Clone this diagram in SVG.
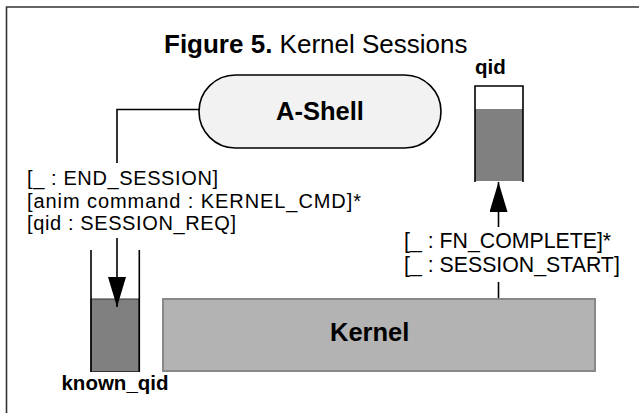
<svg xmlns="http://www.w3.org/2000/svg" width="639" height="413" viewBox="0 0 639 413">
  <style>
    .frame { fill: none; stroke: #333; stroke-width: 1.6; }
    .title { font-family: "Liberation Sans", Arial, sans-serif; font-size: 26px; fill: #000; }
    .node-label { font-family: "Liberation Sans", Arial, sans-serif; font-size: 25.5px; font-weight: bold; fill: #000; }
    .queue-label { font-family: "Liberation Sans", Arial, sans-serif; font-size: 20.5px; font-weight: bold; fill: #000; }
    .edge-label { font-family: "Liberation Sans", Arial, sans-serif; font-size: 21.3px; fill: #000; }
    .edge-label.tight { font-size: 20px; }
    .wire { fill: none; stroke: #000; stroke-width: 1.6; }
    .tube { fill: none; stroke: #000; stroke-width: 1.6; }
    .level { fill: #808080; }
  </style>
  <defs>
    <marker id="arrowBig" viewBox="0 0 30 18" refX="30" refY="9" markerWidth="30" markerHeight="18" markerUnits="userSpaceOnUse" orient="auto">
      <path d="M0,0 L30,9 L0,18 Z" fill="#000"/>
    </marker>
  </defs>

  <rect fill="#fff" x="0" y="0" width="639" height="413"/>
  <!-- figure border -->
  <path class="frame" d="M6.5,413 V7 H639"/>

  <text class="title" x="164" y="53"><tspan font-weight="bold">Figure 5.</tspan> Kernel Sessions</text>

  <!-- A-Shell process -->
  <g id="a-shell">
    <rect x="199" y="75" width="242" height="73" rx="36.5" ry="36.5" fill="#f2f2f2" stroke="#000" stroke-width="1.6"/>
    <text class="node-label" x="320" y="120" text-anchor="middle">A-Shell</text>
  </g>

  <!-- Kernel process -->
  <g id="kernel">
    <rect x="163" y="299" width="432" height="72" fill="#b3b3b3" stroke="#888" stroke-width="2"/>
    <text class="node-label" x="330" y="341">Kernel</text>
  </g>

  <!-- reply queue -->
  <g id="qid">
    <rect class="level" x="475" y="109" width="48" height="72"/>
    <path class="tube" d="M475,182 V86 H523 V182"/>
    <text class="queue-label" x="475" y="74">qid</text>
  </g>

  <!-- request queue -->
  <g id="known_qid">
    <rect class="level" x="91" y="299" width="48" height="72.5" stroke="#333" stroke-width="1"/>
    <path class="tube" d="M91,250 V372 M139.3,250 V372"/>
    <text class="queue-label" x="115" y="390" text-anchor="middle">known_qid</text>
  </g>

  <!-- message flows -->
  <g id="connectors">
    <path class="wire" d="M199,109.5 H117 V163"/>
    <path class="wire" d="M117,238 V307" marker-end="url(#arrowBig)"/>
    <path class="wire" d="M498.5,227 V182" marker-end="url(#arrowBig)"/>
    <path class="wire" d="M498.5,282 V298"/>
  </g>

  <!-- message lists; the three-line list is set a little smaller and tracked out -->
  <g id="labels">
    <text class="edge-label tight" x="27" y="185" textLength="191" lengthAdjust="spacing">[_ : END_SESSION]</text>
    <text class="edge-label tight" x="27" y="207.5" textLength="334" lengthAdjust="spacing">[anim command : KERNEL_CMD]*</text>
    <text class="edge-label tight" x="27" y="230" textLength="209" lengthAdjust="spacing">[qid : SESSION_REQ]</text>
    <text class="edge-label" x="404" y="248">[_ : FN_COMPLETE]*</text>
    <text class="edge-label" x="404" y="272">[_ : SESSION_START]</text>
  </g>
</svg>
